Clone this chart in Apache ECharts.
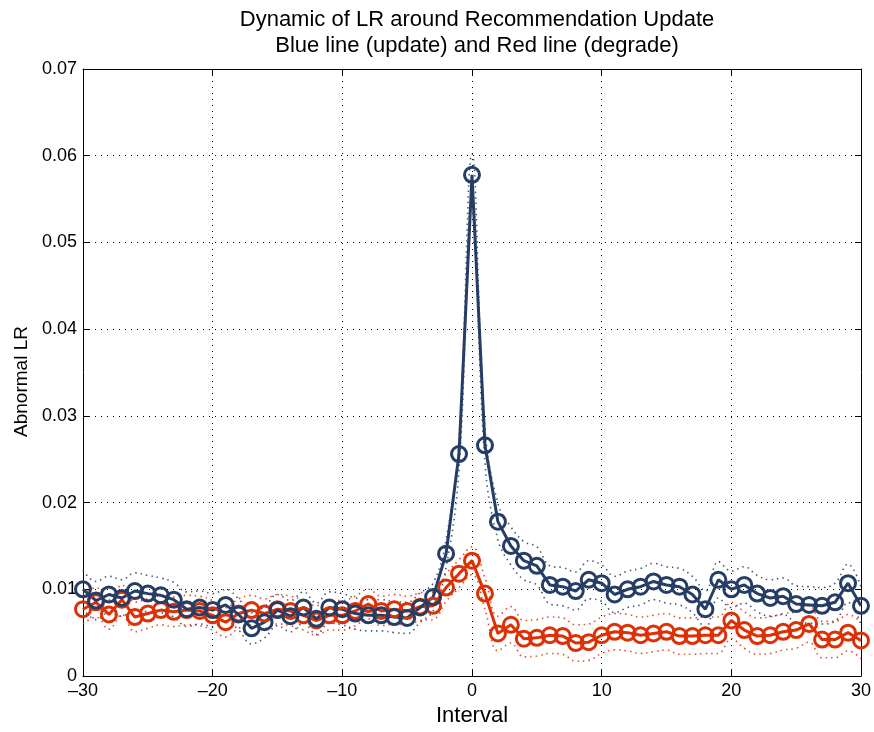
<!DOCTYPE html>
<html lang="en">

<head>
    <meta charset="UTF-8">
    <title>Dynamic of LR</title>
    <style>
        html, body { margin: 0; padding: 0; background: #fff; }
    </style>
</head>

<body>
    <div id="main" style="width: 874px;height:732px;"></div>
</body>
<script src="https://cdn.jsdelivr.net/npm/echarts@6/dist/echarts.min.js"></script>

<script>
    // interval around the update
    var intervals = [-30, -29, -28, -27, -26, -25, -24, -23, -22, -21,
        -20, -19, -18, -17, -16, -15, -14, -13, -12, -11,
        -10, -9, -8, -7, -6, -5, -4, -3, -2, -1,
        0, 1, 2, 3, 4, 5, 6, 7, 8, 9,
        10, 11, 12, 13, 14, 15, 16, 17, 18, 19,
        20, 21, 22, 23, 24, 25, 26, 27, 28, 29, 30];

    // blue line (update)
    var updateLR = [0.0100, 0.0087, 0.0094, 0.0090, 0.0098, 0.0095, 0.0093, 0.0088, 0.0077, 0.0079,
        0.0076, 0.0082, 0.0071, 0.0055, 0.0062, 0.0076, 0.0069, 0.0079, 0.0066, 0.0079,
        0.0077, 0.0072, 0.0070, 0.0070, 0.0068, 0.0067, 0.0079, 0.0091, 0.0141, 0.0256,
        0.0578, 0.0266, 0.0178, 0.0150, 0.0133, 0.0127, 0.0105, 0.0103, 0.0098, 0.0111,
        0.0107, 0.0094, 0.0100, 0.0103, 0.0109, 0.0105, 0.0103, 0.0094, 0.0077, 0.0111,
        0.0100, 0.0105, 0.0095, 0.0090, 0.0092, 0.0083, 0.0082, 0.0081, 0.0085, 0.0107, 0.0081];

    // red line (degrade)
    var degradeLR = [0.0077, 0.0085, 0.0071, 0.0088, 0.0068, 0.0072, 0.0076, 0.0074, 0.0076, 0.0075,
        0.0070, 0.0062, 0.0072, 0.0076, 0.0072, 0.0077, 0.0075, 0.0070, 0.0064, 0.0070,
        0.0070, 0.0075, 0.0083, 0.0075, 0.0077, 0.0075, 0.0080, 0.0081, 0.0102, 0.0118,
        0.0133, 0.0095, 0.0049, 0.0059, 0.0043, 0.0044, 0.0047, 0.0046, 0.0038, 0.0039,
        0.0047, 0.0051, 0.0050, 0.0047, 0.0049, 0.0051, 0.0046, 0.0046, 0.0047, 0.0047,
        0.0064, 0.0053, 0.0046, 0.0047, 0.0051, 0.0053, 0.0060, 0.0042, 0.0042, 0.0050, 0.0041];

    // half width of the dotted bands
    var updateBand = [0.0022, 0.0022, 0.0021, 0.0021, 0.0021, 0.0021, 0.0020, 0.0020, 0.0020, 0.0019,
        0.0019, 0.0018, 0.0018, 0.0018, 0.0018, 0.0018, 0.0018, 0.0018, 0.0018, 0.0018,
        0.0018, 0.0018, 0.0018, 0.0018, 0.0018, 0.0018, 0.0017, 0.0016, 0.0016, 0.0018,
        0.0024, 0.0020, 0.0021, 0.0022, 0.0022, 0.0022, 0.0022, 0.0022, 0.0022, 0.0022,
        0.0021, 0.0021, 0.0021, 0.0021, 0.0021, 0.0021, 0.0021, 0.0021, 0.0021, 0.0021,
        0.0021, 0.0021, 0.0021, 0.0021, 0.0021, 0.0021, 0.0021, 0.0021, 0.0022, 0.0022, 0.0022];

    var degradeBand = [0.0017, 0.0017, 0.0017, 0.0017, 0.0017, 0.0017, 0.0017, 0.0017, 0.0017, 0.0017,
        0.0017, 0.0017, 0.0017, 0.0017, 0.0017, 0.0017, 0.0017, 0.0017, 0.0017, 0.0017,
        0.0017, 0.0017, 0.0017, 0.0017, 0.0017, 0.0017, 0.0016, 0.0016, 0.0016, 0.0016,
        0.0016, 0.0018, 0.0020, 0.0021, 0.0021, 0.0021, 0.0021, 0.0021, 0.0021, 0.0021,
        0.0021, 0.0021, 0.0021, 0.0021, 0.0021, 0.0021, 0.0021, 0.0021, 0.0021, 0.0021,
        0.0021, 0.0021, 0.0021, 0.0021, 0.0021, 0.0021, 0.0021, 0.0021, 0.0021, 0.0021, 0.0021];

    var yTicks = [0, 0.01, 0.02, 0.03, 0.04, 0.05, 0.06, 0.07];

    var BLUE = '#263d66';
    var RED = '#dd3105';
    var FONT = 'Liberation Sans';

    function pairs(vals, band, sign) {
        var out = [];
        for (var i = 0; i < intervals.length; i++) {
            out.push([intervals[i], vals[i] + sign * (band ? band[i] : 0)]);
        }
        return out;
    }

    function bandSeries(vals, band, sign, color) {
        return {
            type: 'line',
            data: pairs(vals, band, sign),
            smooth: 0.4,
            symbol: 'none',
            silent: true,
            lineStyle: { color: color, width: 1.6, type: [1.5, 4], opacity: 0.85 },
            z: 1
        };
    }

    function mainSeries(name, vals, color) {
        return {
            name: name,
            type: 'line',
            data: pairs(vals, null, 0),
            symbol: 'circle',
            symbolSize: 15,
            lineStyle: { color: color, width: 3 },
            itemStyle: { color: 'rgba(0,0,0,0)', borderColor: color, borderWidth: 3 },
            z: 3
        };
    }

    var minus = function (v) {
        return String(v).replace('-', '\u2013');
    };

    var myChart = echarts.init(document.getElementById('main'));
    myChart.setOption({
        animation: false,
        backgroundColor: '#fff',
        textStyle: { fontFamily: FONT },
        title: {
            text: 'Dynamic of LR around Recommendation Update\nBlue line (update) and Red line (degrade)',
            left: 472,
            top: 2,
            textAlign: 'center',
            textStyle: { fontFamily: FONT, fontSize: 22, fontWeight: 'normal', color: '#000', lineHeight: 26 }
        },
        grid: { left: 83, right: 12, top: 69, bottom: 56 },
        xAxis: [{
            type: 'value',
            min: -30,
            max: 30,
            interval: 10,
            name: 'Interval',
            nameLocation: 'middle',
            nameGap: 28,
            nameTextStyle: { fontFamily: FONT, fontSize: 22, color: '#000' },
            axisLine: { onZero: false, lineStyle: { color: '#000', width: 1 } },
            axisTick: { inside: true, length: 6, lineStyle: { color: '#000' } },
            axisLabel: { fontFamily: FONT, fontSize: 18, color: '#000', margin: 6, formatter: minus },
            splitLine: { show: true, lineStyle: { color: '#000', type: [1, 5], width: 1 } }
        }, {
            type: 'value',
            position: 'top',
            min: -30,
            max: 30,
            interval: 10,
            axisLine: { onZero: false, lineStyle: { color: '#000', width: 1 } },
            axisTick: { inside: true, length: 6, lineStyle: { color: '#000' } },
            axisLabel: { show: false },
            splitLine: { show: false }
        }],
        yAxis: [{
            type: 'value',
            min: 0,
            max: 0.07,
            interval: 0.01,
            name: 'Abnormal LR',
            nameLocation: 'middle',
            nameGap: 49,
            nameTextStyle: { fontFamily: FONT, fontSize: 19, color: '#000', padding: [0, 18, 0, 0] },
            axisLine: { show: true, onZero: false, lineStyle: { color: '#000', width: 1 } },
            axisTick: { show: true, inside: true, length: 6, lineStyle: { color: '#000' } },
            axisLabel: {
                fontFamily: FONT, fontSize: 18, color: '#000', margin: 6,
                formatter: function (v) {
                    for (var i = 0; i < yTicks.length; i++) {
                        if (Math.abs(yTicks[i] - v) < 1e-9) return yTicks[i] === 0 ? '0' : yTicks[i].toFixed(2);
                    }
                    return '';
                }
            },
            splitLine: { show: true, lineStyle: { color: '#000', type: [1, 5], width: 1 } }
        }, {
            type: 'value',
            position: 'right',
            min: 0,
            max: 0.07,
            interval: 0.01,
            axisLine: { show: true, onZero: false, lineStyle: { color: '#000', width: 1 } },
            axisTick: { show: true, inside: true, length: 6, lineStyle: { color: '#000' } },
            axisLabel: { show: false },
            splitLine: { show: false }
        }],
        series: [
            bandSeries(degradeLR, degradeBand, 1, RED),
            bandSeries(degradeLR, degradeBand, -1, RED),
            bandSeries(updateLR, updateBand, 1, BLUE),
            bandSeries(updateLR, updateBand, -1, BLUE),
            mainSeries('degrade', degradeLR, RED),
            mainSeries('update', updateLR, BLUE)
        ]
    });
</script>

</html>
